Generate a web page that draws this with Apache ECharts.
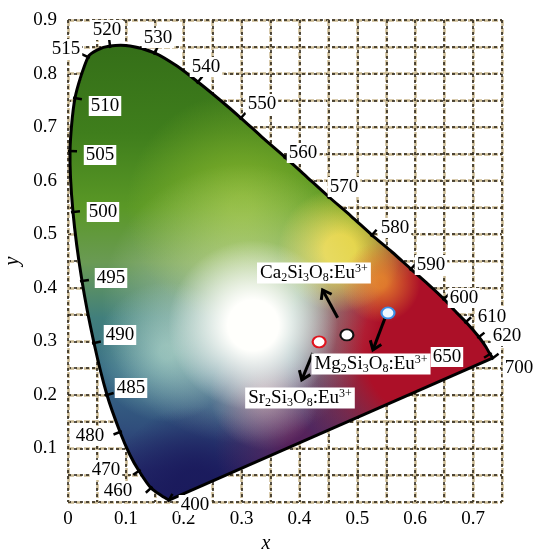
<!DOCTYPE html>
<html><head><meta charset="utf-8">
<script src="https://cdn.jsdelivr.net/npm/echarts@6/dist/echarts.min.js"></script>
<style>html,body{margin:0;padding:0;background:#fff}#c{width:536px;height:549px}</style>
</head><body><div id="c"></div>
<script>
// ---- data ----
const locusWavelengths = [400,440,460,470,475,480,485,490,495,500,505,510,515,517,520,525,530,535,540,545,550,555,560,565,570,575,580,585,590,595,600,605,610,620,630,650,700];
const locusX = [0.1745,0.1624,0.1434,0.1227,0.1071,0.0899,0.0674,0.0449,0.0242,0.0086,0.0035,0.0121,0.0346,0.0501,0.0726,0.1071,0.1503,0.1884,0.2246,0.2627,0.2989,0.3352,0.3750,0.4130,0.4510,0.4890,0.5253,0.5599,0.5927,0.6221,0.6497,0.6705,0.6877,0.7102,0.7223,0.7292,0.7344];
const locusY = [0.0037,0.0112,0.0261,0.0579,0.0878,0.1307,0.1998,0.2969,0.4126,0.5415,0.6553,0.7543,0.8308,0.8439,0.8514,0.8514,0.8383,0.8140,0.7842,0.7506,0.7170,0.6815,0.6441,0.6068,0.5695,0.5340,0.4985,0.4668,0.4350,0.4070,0.3790,0.3547,0.3361,0.3081,0.2894,0.2763,0.2689];
const labelledWavelengths = [400,460,470,480,485,490,495,500,505,510,515,520,530,540,550,560,570,580,590,600,610,620,650,700];
const xTickLabels = ['0','0.1','0.2','0.3','0.4','0.5','0.6','0.7'];
const yTickLabels = ['0.1','0.2','0.3','0.4','0.5','0.6','0.7','0.8','0.9'];
const sampleNames = ['Ca2Si3O8:Eu3+','Mg2Si3O8:Eu3+','Sr2Si3O8:Eu3+'];
const sampleLabelX = [0.425,0.5236,0.4009];
const sampleLabelY = [0.4276,0.2577,0.1942];
const pointX = [0.482,0.553,0.434];
const pointY = [0.312,0.353,0.299];
const arrowFromX = [0.466,0.548,0.423];
const arrowFromY = [0.344,0.344,0.278];
const arrowToX = [0.440,0.527,0.404];
const arrowToY = [0.396,0.284,0.228];

// ---- styling / layout ----
const SERIF = '"Liberation Serif","Times New Roman",serif';
const labelOffsets = {400:[26,5],460:[-33,3],470:[-33,-1],480:[-30,4],485:[24,-7],490:[26,-8],495:[29,-3],500:[30,0],505:[30,4],510:[30,8],515:[-22,-8],520:[-3,-16],530:[3,-15],540:[8,-15],550:[21,-14],560:[18,-4],570:[15,-10],580:[23,-7],590:[20,-4],600:[20,-1],610:[26,-5],620:[28,-1],650:[-43,3],700:[26,10]};
const pointStyles = [
  {border:'#111', fill:'#ffffff'},
  {border:'#3a8ee6', fill:'#eef6ff'},
  {border:'#e0141e', fill:'#ffffff'}
];
const baseStops = [
  {offset:0, color:'#346e18'},{offset:0.2, color:'#3f7e1c'},{offset:0.36, color:'#5a9826'},
  {offset:0.48, color:'#6a9a54'},{offset:0.6, color:'#417f7c'},{offset:0.72, color:'#386c86'},
  {offset:0.84, color:'#304e7c'},{offset:0.93, color:'#242a6a'},{offset:1, color:'#1c1c5e'}
];
const glows = [
  {x:0.30,y:0.55,r:115,c:'138,184,44',a:0.85,hold:0.1},
  {x:0.22,y:0.02,r:85,c:'26,26,92',a:0.9,hold:0.25},
  {x:0.40,y:0.11,r:85,c:'92,28,86',a:0.85,hold:0.15},
  {x:0.64,y:0.29,r:150,c:'172,16,40',a:1,hold:0.5},
  {x:0.47,y:0.47,r:62,c:'228,212,70',a:1,hold:0.25},
  {x:0.54,y:0.41,r:40,c:'232,134,44',a:0.85,hold:0.15},
  {x:0.17,y:0.28,r:70,c:'150,200,190',a:0.75,hold:0.1},
  {x:0.34,y:0.20,r:55,c:'215,170,178',a:0.7,hold:0},
  {x:0.30,y:0.37,r:140,c:'248,250,232',a:0.55,hold:0},
  {x:0.32,y:0.33,r:85,c:'255,255,252',a:1,hold:0.3}
];

function richName(name){
  const m = name.match(/^(.*?)(\d\+)$/);
  const base = m[1].replace(/(\d)/g,'}{s|$1}{n|');
  return ('{n|'+base+'}{p|'+m[2]+'}').replace(/\{n\|\}/g,'');
}

const chart = echarts.init(document.getElementById('c'), null, {renderer:'canvas'});

function renderLocus(params, api){
  const pts = locusX.map((x,i)=>api.coord([x, locusY[i]]));
  const top = api.coord([0,0.86]), bot = api.coord([0,0]);
  const children = [{type:'polygon', shape:{points:pts}, style:{fill:new echarts.graphic.LinearGradient(0,top[1],0,bot[1],baseStops,true)}}];
  glows.forEach(g=>{
    const c = api.coord([g.x,g.y]);
    children.push({type:'polygon', shape:{points:pts}, style:{fill:new echarts.graphic.RadialGradient(c[0],c[1],g.r,[
      {offset:0,color:'rgba('+g.c+','+g.a+')'},{offset:g.hold,color:'rgba('+g.c+','+g.a+')'},{offset:1,color:'rgba('+g.c+',0)'}],true)}});
  });
  children.push({type:'polyline', shape:{points:pts, smooth:0.25}, style:{fill:null, stroke:'#000', lineWidth:3, lineJoin:'round'}});
  children.push({type:'line', shape:{x1:pts[0][0],y1:pts[0][1],x2:pts[pts.length-1][0],y2:pts[pts.length-1][1]}, style:{stroke:'#000', lineWidth:3}});
  return {type:'group', children};
}

function renderMark(params, api){
  const w = api.value(2);
  const j = locusWavelengths.indexOf(w);
  const p = api.coord([api.value(0), api.value(1)]);
  const a = api.coord([locusX[Math.max(0,j-1)], locusY[Math.max(0,j-1)]]);
  const b = api.coord([locusX[Math.min(locusX.length-1,j+1)], locusY[Math.min(locusX.length-1,j+1)]]);
  let tx = b[0]-a[0], ty = b[1]-a[1]; const L = Math.hypot(tx,ty)||1; tx/=L; ty/=L;
  let nx = ty, ny = -tx;
  const off = labelOffsets[w];
  if (nx*off[0]+ny*off[1] < 0){ nx=-nx; ny=-ny; }
  return {type:'group', children:[
    {type:'line', shape:{x1:p[0]-nx*2,y1:p[1]-ny*2,x2:p[0]+nx*7,y2:p[1]+ny*7}, style:{stroke:'#000', lineWidth:2.5}},
    {type:'text', x:p[0]+off[0], y:p[1]+off[1], style:{text:String(w), font:'19px '+SERIF, fill:'#000', align:'center', verticalAlign:'middle', backgroundColor:'#fff', padding:[1,2,0,2]}}
  ]};
}

function renderArrow(params, api){
  const s = api.coord([api.value(0), api.value(1)]);
  const e = api.coord([api.value(2), api.value(3)]);
  const ang = Math.atan2(e[1]-s[1], e[0]-s[0]);
  const hl = 10, ha = Math.PI/5;
  const p1 = [e[0]-hl*Math.cos(ang-ha), e[1]-hl*Math.sin(ang-ha)];
  const p2 = [e[0]-hl*Math.cos(ang+ha), e[1]-hl*Math.sin(ang+ha)];
  return {type:'group', children:[
    {type:'line', shape:{x1:s[0],y1:s[1],x2:e[0],y2:e[1]}, style:{stroke:'#000', lineWidth:3}},
    {type:'polyline', shape:{points:[p1,e,p2]}, style:{stroke:'#000', lineWidth:3, fill:null, lineJoin:'miter'}}
  ]};
}

function renderName(params, api){
  const p = api.coord([api.value(0), api.value(1)]);
  const i = params.dataIndex;
  return {type:'text', x:p[0], y:p[1], style:{
    text: richName(sampleNames[i]), align:'center', verticalAlign:'middle',
    backgroundColor:'#fff', padding:[0,3,0,3],
    rich:{
      n:{font:'19px '+SERIF, fill:'#000', lineHeight:21},
      s:{font:'12px '+SERIF, fill:'#000', lineHeight:12, verticalAlign:'bottom'},
      p:{font:'12px '+SERIF, fill:'#000', lineHeight:12, verticalAlign:'top'}
    }}};
}

const axisCommon = {type:'value', min:0, interval:0.05, axisLine:{show:false}, axisTick:{show:false}};
const option = {
  animation:false,
  backgroundColor:'#fff',
  grid:{left:68, right:34, top:20, bottom:47, containLabel:false, outerBoundsMode:'none'},
  xAxis:[
    Object.assign({}, axisCommon, {max:0.75, position:'bottom',
      name:'x', nameLocation:'middle', nameGap:28,
      nameTextStyle:{fontFamily:SERIF, fontStyle:'italic', fontSize:20, color:'#000', padding:[0,38,0,0]},
      axisLabel:{margin:8, fontFamily:SERIF, fontSize:19, color:'#000', formatter:v=>{const k=Math.round(v*20);return k%2===0&&xTickLabels[k/2]!==undefined?xTickLabels[k/2]:'';}},
      splitLine:{show:true, lineStyle:{color:'#cbbb94', width:2.5, type:[6,2]}}}),
    Object.assign({}, axisCommon, {max:0.75, position:'bottom', axisLabel:{show:false},
      splitLine:{show:true, lineStyle:{color:'#221c12', width:1.5, type:[3,3]}}})
  ],
  yAxis:[
    Object.assign({}, axisCommon, {max:0.9,
      name:'y', nameLocation:'middle', nameGap:43, nameRotate:90,
      nameTextStyle:{fontFamily:SERIF, fontStyle:'italic', fontSize:20, color:'#000'},
      axisLabel:{margin:11, fontFamily:SERIF, fontSize:19, color:'#000', formatter:v=>{const k=Math.round(v*20);return k%2===0&&k>0?(yTickLabels[k/2-1]||''):'';}},
      splitLine:{show:true, lineStyle:{color:'#cbbb94', width:2.5, type:[6,2]}}}),
    Object.assign({}, axisCommon, {max:0.9, position:'left', axisLabel:{show:false},
      splitLine:{show:true, lineStyle:{color:'#221c12', width:1.5, type:[3,3]}}})
  ],
  series:[
    {type:'custom', name:'locus', xAxisIndex:0, yAxisIndex:0, z:2, silent:true, data:[[0,0]], renderItem:renderLocus},
    {type:'custom', name:'wavelengths', z:3, silent:true,
      data: labelledWavelengths.map(w=>{const j=locusWavelengths.indexOf(w);return [locusX[j],locusY[j],w];}),
      renderItem:renderMark},
    {type:'custom', name:'arrows', z:4, silent:true,
      data: arrowFromX.map((x,i)=>[x,arrowFromY[i],arrowToX[i],arrowToY[i]]), renderItem:renderArrow},
    {type:'scatter', name:'samples', z:5, silent:true, symbol:'circle', symbolSize:[13,11],
      data: pointX.map((x,i)=>({value:[x,pointY[i]], itemStyle:{color:pointStyles[i].fill, borderColor:pointStyles[i].border, borderWidth:2, opacity:1}}))},
    {type:'custom', name:'names', z:6, silent:true,
      data: sampleLabelX.map((x,i)=>[x,sampleLabelY[i]]), renderItem:renderName}
  ]
};
chart.setOption(option);
</script></body></html>
